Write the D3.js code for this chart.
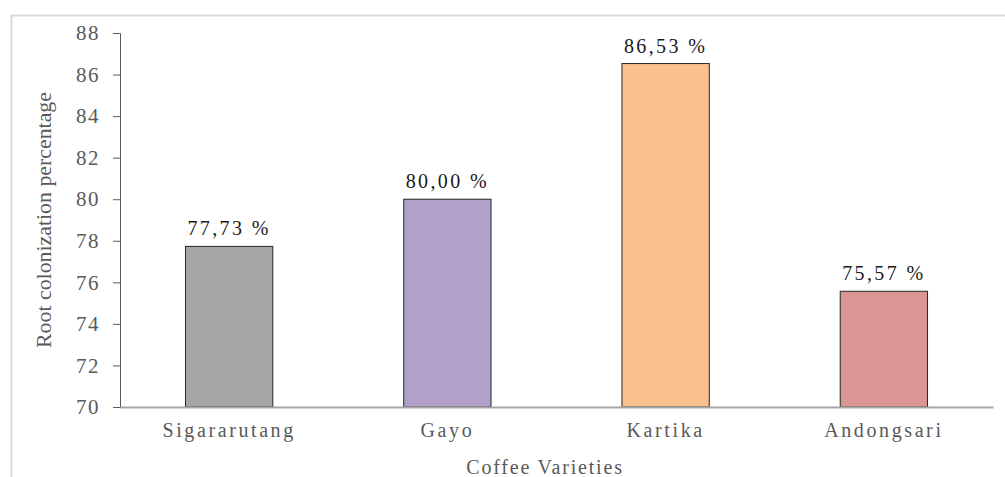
<!DOCTYPE html>
<html>
<head>
<meta charset="utf-8">
<script src="https://cdn.jsdelivr.net/npm/d3@7"></script>
<style>
    body { margin: 0; background: #fff; }
    svg { display: block; font-family: "Liberation Serif", "Times New Roman", serif; }
</style>
</head>
<body>
<div id="bar-chart"></div>
<script>
// chart data
const varieties = ["Sigararutang", "Gayo", "Kartika", "Andongsari"]
const colonization = [77.73, 80.00, 86.53, 75.57]
const barColors = ["#a5a5a5", "#b1a0c7", "#fac090", "#da9694"]
const yTicks = [70, 72, 74, 76, 78, 80, 82, 84, 86, 88]

const serif = '"Liberation Serif", "Times New Roman", serif'

const drawBarChart = () => {
    const data = varieties.map((v, i) => ({ name: v, value: colonization[i], color: barColors[i] }))

    var width = 1005,
        height = 477;
    const margin = ({ top: 33, right: 12, bottom: 70, left: 120 })

    var svg = d3.select("#bar-chart").append("svg")
        .attr("width", width)
        .attr("height", height)

    // outer frame (only top + left visible in the picture)
    svg.append("path")
        .attr("d", `M11.5,${height} V15.5 H${width}`)
        .attr("fill", "none")
        .attr("stroke", "#d9d9d9")
        .attr("stroke-width", 2)

    const x = d3.scaleBand()
        .domain(varieties)
        .range([margin.left, width - margin.right])
        .paddingInner(0.6)
        .paddingOuter(0.3)

    const y = d3.scaleLinear()
        .domain([70, 88])
        .range([height - margin.bottom, margin.top])

    const yAxis = g => g
        .attr("transform", `translate(${margin.left},0)`)
        .call(d3.axisLeft(y).tickValues(yTicks).tickSize(7).tickPadding(13))
        .attr("font-family", serif)
        .call(g => g.selectAll(".domain").attr("stroke", "#595959"))
        .call(g => g.selectAll(".tick line").attr("stroke", "#595959"))
        .call(g => g.selectAll(".tick text")
            .attr("fill", "#595959")
            .attr("font-size", 21)
            .style("letter-spacing", "1.5px"))

    svg.append("g").call(yAxis)

    svg.append("g")
        .selectAll("rect")
        .data(data)
        .join("rect")
        .attr("x", d => x(d.name))
        .attr("y", d => y(d.value))
        .attr("width", x.bandwidth())
        .attr("height", d => y(70) - y(d.value))
        .attr("fill", d => d.color)
        .attr("stroke", "#262626")
        .attr("stroke-width", 1)

    const xAxis = g => g
        .attr("transform", `translate(0,${y(70)})`)
        .call(d3.axisBottom(x).tickSize(0).tickPadding(16))
        .attr("font-family", serif)
        .call(g => g.select(".domain").attr("stroke", "#a6a6a6").attr("stroke-width", 2))
        .call(g => g.selectAll(".tick text")
            .attr("fill", "#595959")
            .attr("font-size", 20)
            .style("letter-spacing", "2.6px"))

    svg.append("g").call(xAxis)

    // value labels
    svg.append("g")
        .selectAll("text")
        .data(data)
        .join("text")
        .attr("x", d => x(d.name) + x.bandwidth() / 2)
        .attr("y", d => y(d.value) - 11)
        .attr("text-anchor", "middle")
        .attr("font-size", 20)
        .attr("fill", "#1a1a1a")
        .style("letter-spacing", "2.4px")
        .text(d => d.value.toFixed(2).replace(".", ",") + " %")

    // axis titles
    svg.append("text")
        .attr("x", 545)
        .attr("y", 474)
        .attr("text-anchor", "middle")
        .attr("font-size", 20)
        .attr("fill", "#595959")
        .style("letter-spacing", "1.8px")
        .text("Coffee Varieties")

    svg.append("text")
        .attr("transform", `translate(51,${(margin.top + height - margin.bottom) / 2}) rotate(-90)`)
        .attr("text-anchor", "middle")
        .attr("font-size", 21)
        .attr("fill", "#595959")
        .attr("textLength", 256)
        .attr("lengthAdjust", "spacingAndGlyphs")
        .text("Root colonization percentage")
}

drawBarChart()
</script>
</body>
</html>
